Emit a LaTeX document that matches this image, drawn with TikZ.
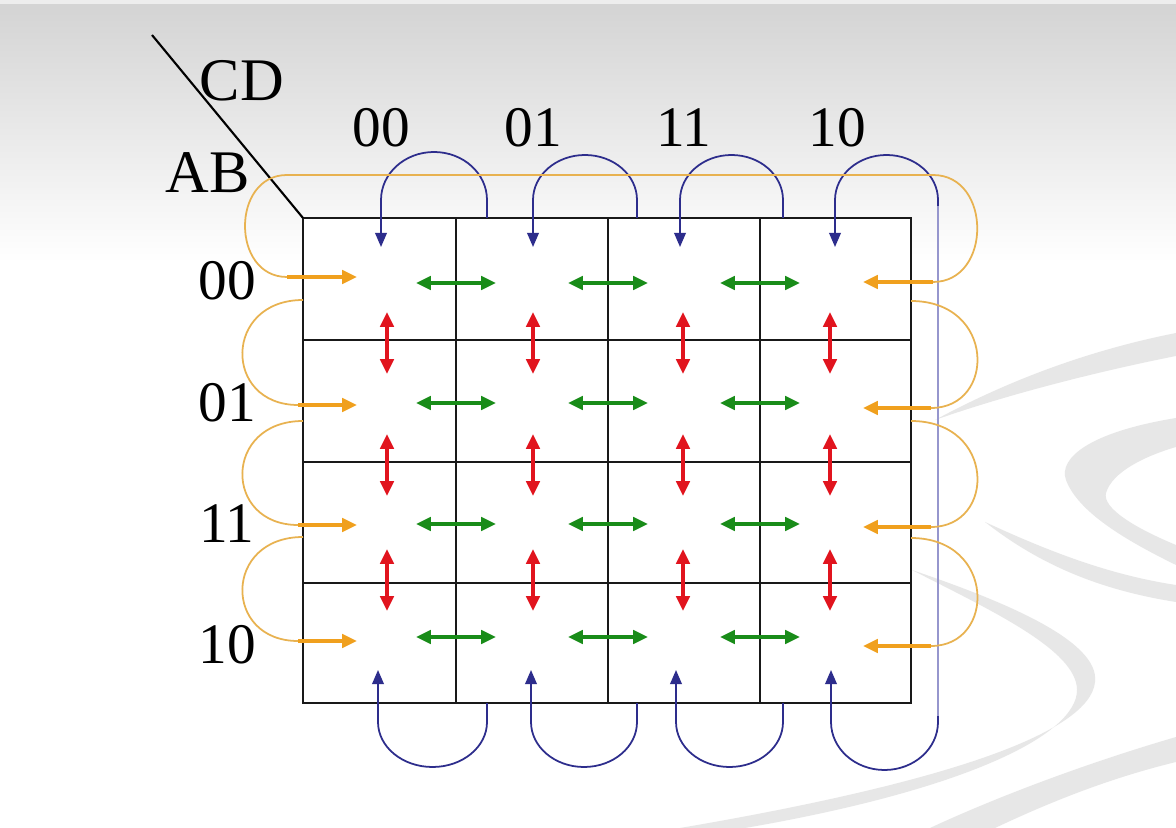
\documentclass[tikz,border=0pt]{standalone}
\usepackage{fontspec}
\setmainfont{Liberation Serif}
\usetikzlibrary{arrows.meta}
\definecolor{kgreen}{RGB}{25,140,25}
\definecolor{kred}{RGB}{225,20,30}
\definecolor{knavy}{RGB}{45,45,140}
\definecolor{klav}{RGB}{150,150,205}
\definecolor{korange}{RGB}{240,160,30}
\definecolor{korangel}{RGB}{232,178,80}
\definecolor{kswirl}{RGB}{231,231,231}
\begin{document}
\begin{tikzpicture}[x=0.01cm,y=-0.01cm,
  gridline/.style={line width=0.75pt,black!90},
  tipA/.tip={Triangle[length=4.2pt,width=3.8pt]},
  tipB/.tip={Triangle[length=4pt,width=3.3pt]},
  grn/.style={kgreen,line width=0.95pt,tipA-tipA},
  rdd/.style={kred,line width=0.95pt,tipA-tipA},
  blu/.style={knavy,line width=0.5pt,-tipB},
  bluboth/.style={knavy,line width=0.5pt,tipB-tipB},
  orc/.style={korangel,line width=0.5pt},
  ora/.style={korange,line width=1pt,-tipA},
  lab/.style={font=\fontsize{16.3}{18}\selectfont,anchor=base,inner sep=0pt},
  labl/.style={font=\fontsize{17.2}{19}\selectfont,anchor=base,inner sep=0pt},
  swirl/.style={fill=kswirl,draw=none}
]
\useasboundingbox (0,0) rectangle (1176,828);
% background
\fill[white] (0,0) rectangle (1176,828);
\shade[top color=black!17, bottom color=white] (0,4) rectangle (1176,262);
\fill[black!7] (0,0) rectangle (1176,4);
% swirls
\path[swirl] (1176,333) .. controls (1080,352) and (1000,385) .. (935,420)
  .. controls (1000,397) and (1090,373) .. (1176,356) -- cycle;
\path[swirl] (1176,418) .. controls (1090,432) and (1058,458) .. (1066,480)
  .. controls (1078,512) and (1125,540) .. (1176,565) -- (1176,545)
  .. controls (1135,528) and (1102,508) .. (1106,493)
  .. controls (1112,472) and (1145,456) .. (1176,447) -- cycle;
\path[swirl] (985,522) .. controls (1050,552) and (1110,575) .. (1176,585)
  -- (1176,602) .. controls (1100,590) and (1040,565) .. (985,522) -- cycle;
\path[swirl] (912,570) .. controls (1000,600) and (1100,640) .. (1095,682)
  .. controls (1090,732) and (950,782) .. (680,828) -- (745,828)
  .. controls (965,790) and (1077,735) .. (1077,690)
  .. controls (1077,650) and (990,610) .. (912,570) -- cycle;
\path[swirl] (1176,737) .. controls (1080,765) and (990,800) .. (930,828)
  -- (995,828) .. controls (1050,802) and (1110,778) .. (1176,762) -- cycle;

% grid
\coordinate (gNW) at (303,218);
\coordinate (gSE) at (911,703);
\fill[white] (gNW) rectangle (gSE);
\foreach \x [count=\i] in {456,608,760} {
  \coordinate (vt\i) at (\x,218); \coordinate (vb\i) at (\x,703);
  \draw[gridline] (vt\i) -- (vb\i);
}
\foreach \y [count=\i] in {340,462,583} {
  \coordinate (hl\i) at (303,\y); \coordinate (hr\i) at (911,\y);
  \draw[gridline] (hl\i) -- (hr\i);
}
\draw[gridline] (gNW) rectangle (gSE);
% diagonal
\coordinate (diag) at (152,35);
\draw[line width=0.6pt] (diag) -- (gNW);

% labels
\node[labl] (cd) at (242,101) {CD};
\node[labl] (ab) at (208,193) {AB};
\node[lab] (c1) at (381,147) {00};
\node[lab] (c2) at (533,147) {01};
\node[lab] (c3) at (684,147) {11};
\node[lab] (c4) at (837,147) {10};
\node[lab] (r1) at (227,300) {00};
\node[lab] (r2) at (227,422) {01};
\node[lab] (r3) at (227,543) {11};
\node[lab] (r4) at (227,663) {10};

% green arrows
\foreach \y [count=\r] in {283,403,524,637} {
  \foreach \x [count=\c] in {456,608,760} {
    \coordinate (gl\r\c) at (\x-40,\y);
    \coordinate (gr\r\c) at (\x+40,\y);
    \draw[grn] (gl\r\c) -- (gr\r\c);
  }
}
% red arrows
\foreach \y [count=\r] in {343,465,580} {
  \foreach \x [count=\c] in {387,533,683,830} {
    \coordinate (ru\r\c) at (\x,\y-31);
    \coordinate (rl\r\c) at (\x,\y+31);
    \draw[rdd] (ru\r\c) -- (rl\r\c);
  }
}
% blue top arcs (cols 1-3)
\foreach \L/\R/\yr [count=\i] in {381/487/48,533/637/45,680/783/45} {
  \coordinate (bts\i) at (\R,218);
  \coordinate (bte\i) at (\L,247);
  \draw[blu] (bts\i) -- ++(0,-18)
    arc[start angle=0,end angle=-180,x radius={(\R-\L)/2},y radius=\yr] -- (bte\i);
}
% blue bottom arcs (cols 1-3)
\foreach \L/\R [count=\i] in {378/487,531/637,676/783} {
  \coordinate (bbs\i) at (\R,703);
  \coordinate (bbe\i) at (\L,670);
  \draw[blu] (bbs\i) -- ++(0,19)
    arc[start angle=0,end angle=180,x radius={(\R-\L)/2},y radius=45] -- (bbe\i);
}
% blue column 4 (top to bottom)
\coordinate (b4t) at (835,247);
\coordinate (b4b) at (831,670);
\draw[bluboth] (b4t) -- (835,200)
  arc[start angle=180,end angle=360,x radius=51.5,y radius=45] -- (938,722)
  arc[start angle=0,end angle=180,x radius=53.5,y radius=48] -- (b4b);
\draw[klav,line width=0.55pt] (938,206) -- (938,716);

% orange top wrap
\coordinate (oL1) at (287,277);
\coordinate (oR1) at (933,282);
\coordinate (oLt1) at (357,277);
\coordinate (oRt1) at (863,282);
\draw[orc] (oL1) .. controls (231,277) and (231,175) .. (287,175) -- (933,175)
  .. controls (992,175) and (992,282) .. (oR1);
\draw[ora] (oL1) -- (oLt1);
\draw[ora] (oR1) -- (oRt1);
% orange left arcs rows 2-4
\foreach \ys/\ye [count=\i from 2] in {300/405,421/525,537/641} {
  \coordinate (oLs\i) at (303,\ys);
  \coordinate (oL\i) at (298,\ye);
  \coordinate (oLt\i) at (357,\ye);
  \draw[orc] (oLs\i) .. controls (223,\ys) and (223,\ye) .. (oL\i);
  \draw[ora] (oL\i) -- (oLt\i);
}
% orange right arcs rows 2-4
\foreach \ys/\ye [count=\i from 2] in {301/408,421/527,538/646} {
  \coordinate (oRs\i) at (911,\ys);
  \coordinate (oR\i) at (931,\ye);
  \coordinate (oRt\i) at (863,\ye);
  \draw[orc] (oRs\i) .. controls (996,\ys) and (996,\ye) .. (oR\i);
  \draw[ora] (oR\i) -- (oRt\i);
}
\end{tikzpicture}
\end{document}
